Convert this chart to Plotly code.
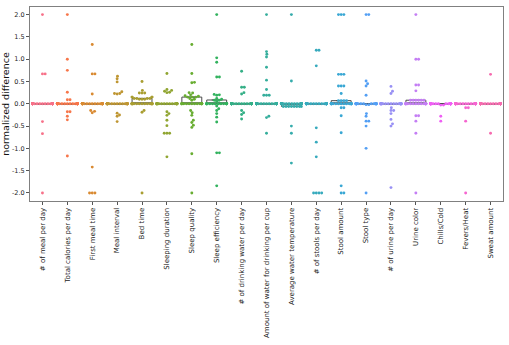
import math
import numpy as np
import plotly.graph_objects as go

categories = ["# of meal per day", "Total calories per day", "First meal time", "Meal interval",
              "Bed time", "Sleeping duration", "Sleep quality", "Sleep efficiency",
              "# of drinking water per day", "Amount of water for drinking per cup",
              "Average water temperature", "# of stools per day", "Stool amount", "Stool type",
              "# of urine per day", "Urine color", "Chills/Cold", "Fevers/Heat", "Sweat amount"]

# non-zero normalized differences
meal_per_day = [2.0, 0.67, 0.67, -0.4, -0.67, -2.0]
total_calories = [2.0, 1.0, 0.75, 0.26, 0.09, 0.09, -0.18, -0.18, -0.28, -0.36, -1.17]
first_meal_time = [1.33, 0.67, 0.67, 0.22, -0.15, -0.17, -0.2, -1.42, -2.0, -2.0, -2.0]
meal_interval = [0.62, 0.56, 0.49, 0.27, 0.23, 0.23, 0.22, -0.21, -0.25, -0.28, -0.4]
bed_time = [0.5, 0.3, 0.24, 0.24, 0.24, 0.15, 0.15, 0.15, 0.15, 0.12, 0.12, 0.12, 0.12,
            0.1, 0.1, 0.1, -0.15, -0.19, -2.0]
sleeping_duration = [0.68, 0.32, 0.3, 0.28, 0.26, 0.25, -0.18, -0.22, -0.26, -0.37, -0.49,
                     -0.66, -0.66, -0.66, -1.19]
sleep_quality = [1.33, 0.68, 0.48, 0.47, 0.25, 0.24, 0.2, 0.18, 0.17, 0.15, 0.15, 0.15, 0.12,
                 0.1, 0.08, -0.15, -0.2, -0.26, -0.37, -0.42, -0.48, -0.53, -1.12, -2.0]
sleep_efficiency = [2.0, 1.03, 0.93, 0.6, 0.6, 0.21, 0.2, 0.19, 0.12, 0.1, 0.08, 0.08, 0.05,
                    -0.05, -0.11, -0.15, -0.22, -0.3, -0.41, -1.1, -1.1, -1.84]
drinking_water = [0.73, 0.37, 0.37, 0.25, 0.22, -0.15, -0.2, -0.24, -0.34]
water_per_cup = [2.0, 1.17, 1.11, 1.05, 0.82, 0.53, 0.32, 0.19, 0.19, 0.19, -0.28, -0.31, -0.66]
water_temperature = [2.0, 0.51, -0.06, -0.06, -0.06, -0.06, -0.06, -0.06, -0.06, -0.06,
                     -0.5, -0.66, -1.33]
stools_per_day = [1.2, 1.2, 0.85, -0.54, -0.86, -1.19, -2.0, -2.0, -2.0, -2.0]
stool_amount = [2.0, 2.0, 2.0, 0.66, 0.66, 0.66, 0.4, 0.4, 0.4, 0.23, 0.07, 0.07, 0.07, 0.07,
                -0.09, -0.09, -0.27, -0.65, -1.84, -2.0, -2.0]
stool_type = [2.0, 2.0, 0.51, 0.45, 0.4, 0.19, -0.02, -0.02, -0.22, -0.28, -0.39, -0.39,
              -0.5, -1.0, -2.0]
urine_per_day = [0.39, 0.28, 0.23, -0.09, -0.15, -0.15, -0.22, -0.35, -0.45, -0.5, -1.88]
urine_color = [2.0, 1.0, 1.0, 0.42, 0.42, 0.29, 0.08, 0.08, 0.08, 0.08, 0.08, 0.08,
               -0.27, -0.27, -0.39, -0.66, -2.0]
chills_cold = [-0.03, -0.03, -0.28, -0.39]
fevers_heat = [-0.09, -0.09, -0.39, -2.0]
sweat_amount = [0.66, -0.66]

# number of subjects with zero difference in each category
zero_counts = [34, 29, 29, 29, 21, 25, 16, 18, 31, 30, 27, 30, 20, 25, 29, 23, 36, 36, 38]

y_ticks = [-2.0, -1.5, -1.0, -0.5, 0.0, 0.5, 1.0, 1.5, 2.0]
y_tick_labels = ["-2.0", "-1.5", "-1.0", "-0.5", "0.0", "0.5", "1.0", "1.5", "2.0"]

nonzero = [meal_per_day, total_calories, first_meal_time, meal_interval, bed_time,
           sleeping_duration, sleep_quality, sleep_efficiency, drinking_water, water_per_cup,
           water_temperature, stools_per_day, stool_amount, stool_type, urine_per_day,
           urine_color, chills_cold, fevers_heat, sweat_amount]
data = [list(v) + [0.0] * z for v, z in zip(nonzero, zero_counts)]

# ---------- seaborn-like husl palette ----------
_m = [[3.2406, -1.5372, -0.4986], [-0.9689, 1.8758, 0.0415], [0.0557, -0.2040, 1.0570]]
_refU, _refV = 0.19784, 0.46834


def _max_chroma(L, H):
    hrad = math.radians(H)
    sinH, cosH = math.sin(hrad), math.cos(hrad)
    sub1 = (L + 16) ** 3 / 1560896.0
    sub2 = sub1 if sub1 > 0.008856 else L / 903.3
    result = float("inf")
    for m1, m2, m3 in _m:
        top = (0.99915 * m1 + 1.05122 * m2 + 1.14460 * m3) * sub2
        rb = 0.86330 * m3 - 0.17266 * m2
        lb = 0.12949 * m3 - 0.38848 * m1
        bottom = (rb * sinH + lb * cosH) * sub2
        for t in (0.0, 1.0):
            C = L * (top - 1.05122 * t) / (bottom + 0.17266 * sinH * t)
            if 0 < C < result:
                result = C
    return result


def _husl_to_rgb(h, s, l):
    C = _max_chroma(l, h) / 100 * s
    hr = math.radians(h)
    U, V = math.cos(hr) * C, math.sin(hr) * C
    Y = ((l + 16) / 116.0) ** 3 if l > 8 else l / 903.3
    vu = U / (13 * l) + _refU
    vv = V / (13 * l) + _refV
    X = -(9 * Y * vu) / ((vu - 4) * vv - vu * vv)
    Z = (9 * Y - 15 * vv * Y - vv * X) / (3 * vv)
    out = []
    for row in _m:
        c = row[0] * X + row[1] * Y + row[2] * Z
        c = 12.92 * c if c <= 0.0031308 else 1.055 * c ** (1 / 2.4) - 0.055
        out.append(int(round(min(max(c, 0), 1) * 255)))
    return "rgb(%d,%d,%d)" % tuple(out)


n = len(categories)
hues = (np.linspace(0, 1, n + 1)[:-1] + 0.01) % 1 * 359
colors = [_husl_to_rgb(h, 0.9 * 99, 0.65 * 99) for h in hues]

# ---------- layout geometry ----------
W, H = 509, 345
ML, MR, MT, MB = 30, 6, 7, 144
yrange = [-2.18, 2.17]
xrange_ = [-0.5, n - 0.5]
plot_w = W - ML - MR
px_per_x = plot_w / (xrange_[1] - xrange_[0])
px_per_y = (H - MT - MB) / (yrange[1] - yrange[0])


def swarm_offsets(vals, d=2.7, width=0.8):
    py = np.asarray(vals, dtype=float) * px_per_y
    order = np.argsort(py, kind="stable")
    placed = []
    off = np.zeros(len(py))
    for i in order:
        y = py[i]
        neigh = [(a, b) for a, b in placed if abs(b - y) < d]
        cands = [0.0]
        for a, b in neigh:
            dx = math.sqrt(max(d * d - (b - y) ** 2, 0))
            cands += [a + dx, a - dx]
        cands.sort(key=lambda c: (abs(c), -c))
        chosen = cands[-1]
        for c in cands:
            if all((c - a) ** 2 + (y - b) ** 2 >= d * d - 1e-6 for a, b in neigh):
                chosen = c
                break
        placed.append((chosen, y))
        off[i] = chosen
    half = width / 2 * px_per_x
    off = np.clip(off, -half, half)
    return off / px_per_x


fig = go.Figure()

q1 = [float(np.percentile(v, 25)) for v in data]
med = [float(np.percentile(v, 50)) for v in data]
q3 = [float(np.percentile(v, 75)) for v in data]
fig.add_trace(go.Box(x=list(range(n)), q1=q1, median=med, q3=q3, lowerfence=q1, upperfence=q3,
                     width=0.8, line=dict(color="#4a4a4a", width=1),
                     fillcolor="rgba(0,0,0,0)", boxpoints=False, showlegend=False,
                     hoverinfo="skip"))

for i, vals in enumerate(data):
    offs = swarm_offsets(vals)
    fig.add_trace(go.Scatter(x=i + offs, y=vals, mode="markers",
                             marker=dict(size=2.9, color=colors[i], line=dict(width=0)),
                             showlegend=False, hoverinfo="skip"))

axis_common = dict(showline=True, mirror=True, linecolor="#808080", linewidth=1,
                   showgrid=False, zeroline=False, ticks="outside", ticklen=3,
                   tickcolor="#555")

fig.update_layout(
    width=W, height=H,
    margin=dict(l=ML, r=MR, t=MT, b=MB, autoexpand=False),
    paper_bgcolor="white", plot_bgcolor="white",
    xaxis=dict(range=xrange_, tickmode="array", tickvals=list(range(n)), ticktext=categories,
               tickangle=-90, automargin=False,
               tickfont=dict(family="DejaVu Sans", size=7, color="#222"), **axis_common),
    yaxis=dict(range=yrange, tickmode="array", tickvals=y_ticks, ticktext=y_tick_labels,
               automargin=False, ticklabelstandoff=0,
               tickfont=dict(family="DejaVu Sans", size=6.5, color="#222"),
               title=dict(text="normalized difference", standoff=0,
                          font=dict(family="DejaVu Sans", size=9.5, color="#111")),
               **axis_common),
)

fig.write_html("out.html")
